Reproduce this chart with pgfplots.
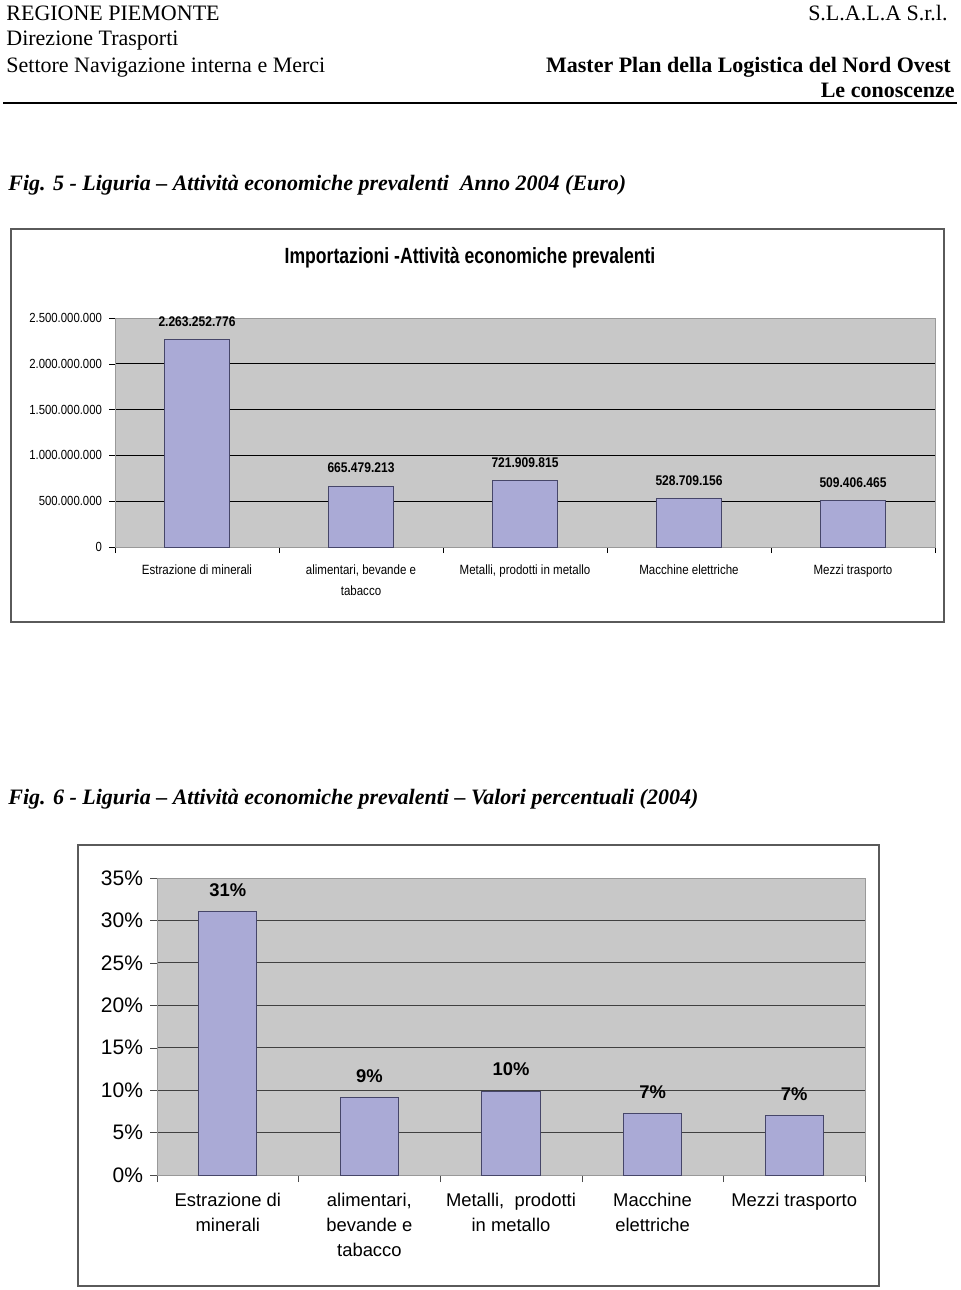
\documentclass[border=0pt]{standalone}
\usepackage{fontspec}
\setmainfont{Liberation Serif}
\newfontfamily\arial{Liberation Sans}
\newfontfamily\arialn[FakeStretch=0.86]{Liberation Sans}
\newfontfamily\arialt[FakeStretch=0.8]{Liberation Sans}
\usepackage{pgfplots}
\pgfplotsset{compat=1.18}
\definecolor{barfill}{RGB}{170,170,214}
\definecolor{baredge}{RGB}{70,70,105}
\definecolor{plotbg}{RGB}{200,200,200}
\definecolor{framec}{RGB}{90,90,90}
\begin{document}
\begin{tikzpicture}
\begin{scope}[x=0.5pt,y=-0.5pt]
\fill[white] (0,0) rectangle (960,1290);
\useasboundingbox (0,0) rectangle (960,1290);
% header
\node[anchor=base west,inner sep=0,font=\fontsize{11}{13}\selectfont] at (6,20) {REGIONE PIEMONTE};
\node[anchor=base west,inner sep=0,font=\fontsize{11}{13}\selectfont] at (6,46) {Direzione Trasporti};
\node[anchor=base west,inner sep=0,font=\fontsize{11}{13}\selectfont] at (6,72) {Settore Navigazione interna e Merci};
\node[anchor=base east,inner sep=0,font=\fontsize{11}{13}\selectfont] at (948,20) {S.L.A.L.A S.r.l.};
\node[anchor=base east,inner sep=0,font=\bfseries\fontsize{11}{13}\selectfont] at (951,72) {Master Plan della Logistica del Nord Ovest};
\node[anchor=base east,inner sep=0,font=\bfseries\fontsize{11}{13}\selectfont] at (955,97) {Le conoscenze};
\draw[line width=1pt] (3,103) -- (957,103);
% captions
\node[anchor=base west,inner sep=0,font=\bfseries\itshape\fontsize{11}{13}\selectfont] at (8,190) {Fig. 5 - Liguria -- Attività economiche prevalenti\ \ Anno 2004 (Euro)};
\node[anchor=base west,inner sep=0,font=\bfseries\itshape\fontsize{11}{13}\selectfont] at (8,804) {Fig. 6 - Liguria -- Attività economiche prevalenti -- Valori percentuali (2004)};
% frames
\draw[framec,line width=0.8pt] (11,229) rectangle (944,622);
\draw[framec,line width=0.8pt] (78,845) rectangle (879,1286);
\node[anchor=base,inner sep=0,font=\arialt\bfseries\fontsize{11}{12}\selectfont] at (470,263) {Importazioni -Attività economiche prevalenti};
\end{scope}

\begin{axis}[
  at={(57.5pt,-273.5pt)}, anchor=south west, scale only axis,
  width=410pt, height=114.5pt,
  xmin=-0.5, xmax=4.5, ymin=0, ymax=2500000000,
  scaled y ticks=false,
  axis background/.style={fill=plotbg},
  axis line style={draw=gray!80},
  ytick={0,500000000,1000000000,1500000000,2000000000,2500000000},
  yticklabels={0,500.000.000,1.000.000.000,1.500.000.000,2.000.000.000,2.500.000.000},
  ymajorgrids, grid style={black,line width=0.5pt},
  xtick={-0.5,0.5,1.5,2.5,3.5,4.5},
  x tick label as interval,
  xticklabels={{Estrazione di minerali},{alimentari, bevande e\\tabacco},{Metalli, prodotti in metallo},{Macchine elettriche},{Mezzi trasporto}},
  tick align=outside, major tick length=3pt, tick style={black},
  xtick pos=bottom, ytick pos=left,
  yticklabel style={font=\arialn\fontsize{6.6}{8}\selectfont},
  xticklabel style={font=\arialn\fontsize{6.7}{10.5}\selectfont,align=center,anchor=north,yshift=-2.5pt},
  ybar, bar width=0.4,
  nodes near coords, point meta=explicit symbolic,
  nodes near coords style={font=\arialn\bfseries\fontsize{7}{8}\selectfont,anchor=south,yshift=3pt},
  clip=false,
]
\addplot[fill=barfill,draw=baredge,line width=0.5pt] table[x=x,y=y,meta=lab] {
x y lab
0 2263252776 2.263.252.776
1 665479213 665.479.213
2 721909815 721.909.815
3 528709156 528.709.156
4 509406465 509.406.465
};
\end{axis}

\begin{axis}[
  at={(78.5pt,-587.5pt)}, anchor=south west, scale only axis,
  width=354pt, height=148.5pt,
  xmin=-0.5, xmax=4.5, ymin=0, ymax=35,
  axis background/.style={fill=plotbg},
  axis line style={draw=gray!80},
  ytick={0,5,10,15,20,25,30,35},
  yticklabels={0\%,5\%,10\%,15\%,20\%,25\%,30\%,35\%},
  ymajorgrids, grid style={black!75,line width=0.5pt},
  xtick={-0.5,0.5,1.5,2.5,3.5,4.5},
  x tick label as interval,
  xticklabels={{Estrazione di\\minerali},{alimentari,\\bevande e\\tabacco},{Metalli,\ \ prodotti\\in metallo},{Macchine\\elettriche},{Mezzi trasporto}},
  tick align=outside, major tick length=3.5pt, tick style={black!70},
  xtick pos=bottom, ytick pos=left,
  yticklabel style={font=\arial\fontsize{10.5}{12}\selectfont},
  xticklabel style={font=\arial\fontsize{9.2}{12.5}\selectfont,align=center,anchor=north,yshift=-2pt},
  ybar, bar width=0.41,
  nodes near coords={\pgfplotspointmeta\%}, point meta=explicit symbolic,
  nodes near coords style={font=\arial\bfseries\fontsize{9.2}{10}\selectfont,anchor=south,yshift=4pt},
  clip=false,
]
\addplot[fill=barfill,draw=baredge,line width=0.5pt] table[x=x,y=y,meta=lab] {
x y lab
0 31.0 31
1 9.1 9
2 9.9 10
3 7.2 7
4 7.0 7
};
\end{axis}
\end{tikzpicture}
\end{document}
